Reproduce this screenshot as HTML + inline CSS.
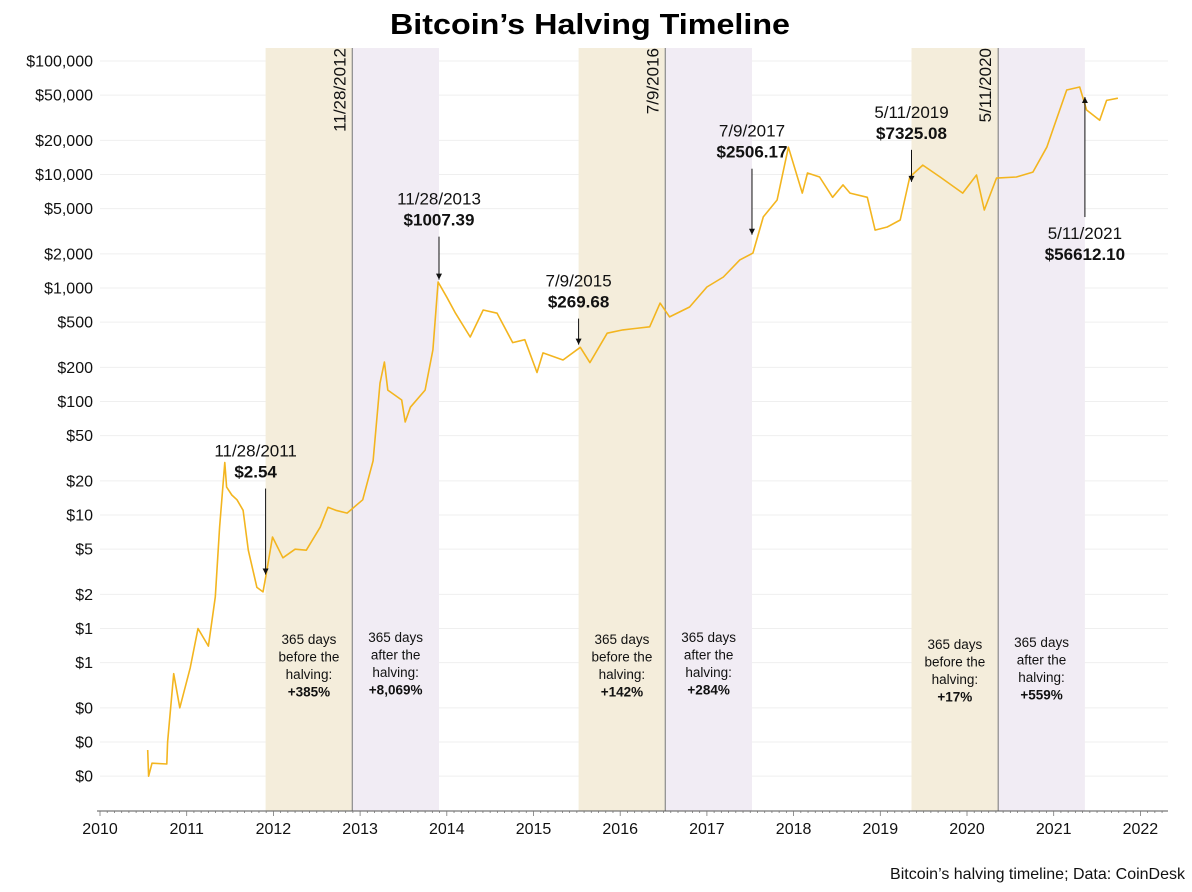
<!DOCTYPE html>
<html><head><meta charset="utf-8">
<style>
html,body{margin:0;padding:0;background:#fff;}
body{width:1192px;height:887px;overflow:hidden;font-family:"Liberation Sans",sans-serif;}
</style></head>
<body>
<svg id="chart" width="1192" height="887" xmlns="http://www.w3.org/2000/svg" font-family="Liberation Sans, sans-serif">
<text x="590" y="34" text-anchor="middle" font-size="29" font-weight="bold" fill="#000" textLength="400" lengthAdjust="spacingAndGlyphs">Bitcoin’s Halving Timeline</text>
<g id="grid"></g><g id="bands"></g><g id="yaxis"></g><g id="xaxis"></g><g id="series"></g><g id="notes"></g>
<text x="1185" y="879" text-anchor="end" font-size="16" fill="#111">Bitcoin’s halving timeline; Data: CoinDesk</text>
</svg>
<script>
const yTickValues=[100000,50000,20000,10000,5000,2000,1000,500,200,100,50,20,10,5,2,1,0.5,0.2,0.1,0.05];
const yTickLabels=["$100,000","$50,000","$20,000","$10,000","$5,000","$2,000","$1,000","$500","$200","$100","$50","$20","$10","$5","$2","$1","$1","$0","$0","$0"];
const xTickYears=[2010,2011,2012,2013,2014,2015,2016,2017,2018,2019,2020,2021,2022];
const halvingDates=[2012.91,2016.52,2020.36];
const halvingLabels=["11/28/2012","7/9/2016","5/11/2020"];
const bandNotesBefore=["+385%","+142%","+17%"];
const bandNotesAfter=["+8,069%","+284%","+559%"];
const priceDates=[2010.55,2010.56,2010.6,2010.77,2010.78,2010.85,2010.92,2011.04,2011.13,2011.25,2011.33,2011.38,2011.44,2011.46,2011.52,2011.58,2011.65,2011.71,2011.81,2011.88,2011.91,2011.99,2012.11,2012.25,2012.38,2012.54,2012.63,2012.72,2012.85,2013.03,2013.15,2013.23,2013.28,2013.32,2013.48,2013.52,2013.58,2013.75,2013.84,2013.9,2014.0,2014.1,2014.27,2014.42,2014.58,2014.76,2014.9,2015.04,2015.11,2015.34,2015.54,2015.65,2015.85,2016.03,2016.34,2016.46,2016.57,2016.8,2017.0,2017.19,2017.38,2017.53,2017.65,2017.81,2017.94,2018.1,2018.16,2018.3,2018.45,2018.57,2018.65,2018.85,2018.94,2019.08,2019.23,2019.34,2019.49,2019.69,2019.95,2020.11,2020.2,2020.34,2020.57,2020.76,2020.92,2021.04,2021.15,2021.3,2021.38,2021.53,2021.61,2021.74];
const priceValues=[0.085,0.05,0.065,0.064,0.1,0.4,0.2,0.45,1.0,0.7,1.9,7.8,29,17.6,15,13.6,11,4.9,2.3,2.1,2.8,6.4,4.2,5,4.9,7.8,11.7,11,10.4,13.6,30,145,223,126,103,66,89,126,285,1130,830,600,370,640,600,330,350,180,268,232,300,220,400,427,455,736,556,680,1020,1250,1770,2030,4230,5960,17400,6860,10300,9500,6300,8090,6860,6300,3240,3450,3970,9500,12100,9500,6860,9900,4870,9300,9500,10500,17400,32000,55500,59000,37000,30000,45000,47000];
const annoDates=["11/28/2011","11/28/2013","7/9/2015","7/9/2017","5/11/2019","5/11/2021"];
const annoPrices=["$2.54","$1007.39","$269.68","$2506.17","$7325.08","$56612.10"];
const annoX=[2011.91,2013.91,2015.52,2017.52,2019.36,2021.36];
const annoV=[2.54,1007.39,269.68,2506.17,7325.08,56612.10];

const NS="http://www.w3.org/2000/svg";
function X(t){return 100+(t-2010)*86.7;}
function Y(v){return 288-113.5*Math.log10(v/1000);}
function mk(tag,attrs,parent,text){const e=document.createElementNS(NS,tag);for(const k in attrs)e.setAttribute(k,attrs[k]);if(text!==undefined)e.textContent=text;document.getElementById(parent).appendChild(e);return e;}

halvingDates.forEach((h,i)=>{
  let b1=mk('rect',{x:X(h-1),y:48,width:X(h)-X(h-1),height:763,fill:'#f4eddb'},'bands');
  
  
  let b2=mk('rect',{x:X(h),y:48,width:X(h+1)-X(h),height:763,fill:'#f1ecf4'},'bands');
  
  
  let l=mk('line',{x1:X(h),x2:X(h),y1:48,y2:811,stroke:'#8a8a8a','stroke-width':1.2},'bands');
  
  
  let t=mk('text',{x:0,y:0,transform:`translate(${X(h)-7},48) rotate(-90)`,'text-anchor':'end','font-size':17,fill:'#111'},'bands',halvingLabels[i]);
  
  
  const mk4=(cx,lines,dy)=>{lines.forEach((s,j)=>{let tt=mk('text',{x:cx,y:dy+j*17.5,'text-anchor':'middle','font-size':13.5,fill:'#111','font-weight':j==3?'bold':'normal'},'bands',s);
    
    });};
  const base=[644,644,649][i];
  mk4((X(h-1)+X(h))/2,["365 days","before the","halving:",bandNotesBefore[i]],base);
  mk4((X(h)+X(h+1))/2,["365 days","after the","halving:",bandNotesAfter[i]],base-2);
});
yTickValues.forEach((v,i)=>{
  let g=mk('line',{x1:100,x2:1168,y1:Y(v),y2:Y(v),stroke:'#efefef','stroke-width':1},'grid');
  
  
  let t=mk('text',{x:93,y:Y(v)+5.5,'text-anchor':'end','font-size':16,fill:'#111'},'yaxis',yTickLabels[i]);
  
  
});
let ax=mk('line',{x1:97,x2:1168,y1:811,y2:811,stroke:'#555','stroke-width':1},'xaxis');


for(let m=0;m<=12*12+4;m++){const t=2010+m/12;if(X(t)>1168)break;mk('line',{x1:X(t),x2:X(t),y1:811,y2:m%12?813:816,stroke:'#777','stroke-width':0.8},'xaxis');}
xTickYears.forEach(yr=>{
  let t=mk('text',{x:X(yr),y:834,'text-anchor':'middle','font-size':16,fill:'#111'},'xaxis',String(yr));
  
  
});
let d=priceDates.map((t,i)=>(i?'L':'M')+X(t).toFixed(1)+','+Y(priceValues[i]).toFixed(1)).join(' ');
let p=mk('path',{d:d,fill:'none',stroke:'#f3b51f','stroke-width':1.6,'stroke-linejoin':'round'},'series');


const txtDy=[-126,-83,-66,-106,-72,-42];
annoX.forEach((t,i)=>{
  const x=X(t),y=Y(annoV[i]);
  const up=i==5;
  const ty=up?y+150:y+txtDy[i];
  let a=mk('text',{x:x-(i==0?10:0),y:ty,'text-anchor':'middle','font-size':17,fill:'#111'},'notes',annoDates[i]);
  
  
  let b=mk('text',{x:x-(i==0?10:0),y:ty+21,'text-anchor':'middle','font-size':17,'font-weight':'bold',fill:'#111'},'notes',annoPrices[i]);
  
  
  let y1=up?ty-22:ty+32, y2=up?y+8:y-8;
  let l=mk('line',{x1:x,x2:x,y1:y1,y2:y2,stroke:'#111','stroke-width':1},'notes');
  
  
  const s=up?-1:1;
  mk('path',{d:`M${x-3},${y2-6*s} L${x+3},${y2-6*s} L${x},${y2} Z`,fill:'#111'},'notes');
});
</script>
</body></html>
